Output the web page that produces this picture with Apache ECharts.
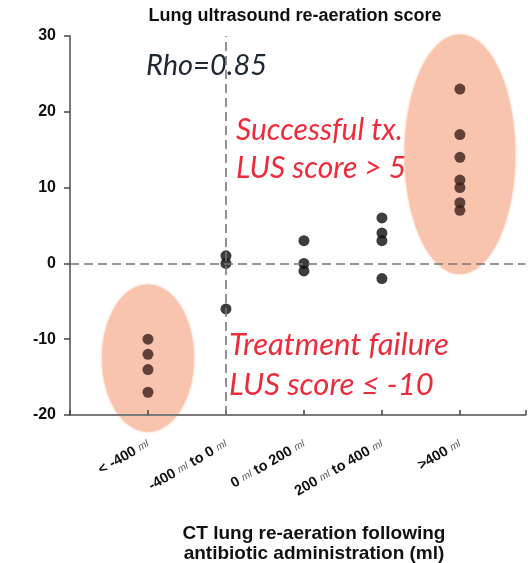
<!DOCTYPE html>
<html>
<head>
<meta charset="utf-8">
<script src="https://cdn.jsdelivr.net/npm/echarts@6/dist/echarts.min.js"></script>
<style>
  html, body { margin: 0; padding: 0; background: #fff; }
  #chart { width: 528px; height: 563px; }
</style>
</head>
<body>
<div id="chart"></div>
<script>
// CT re-aeration groups (x positions 1..5 on the value axis)
const categories = ['< -400 ml', '-400 ml to 0 ml', '0 ml to 200 ml', '200 ml to 400 ml', '>400 ml'];

// Lung ultrasound re-aeration score, one list per CT group
const scoresLt400 = [-10, -12, -14, -17];
const scores400to0 = [1, 0, -6];
const scores0to200 = [3, 0, -1];
const scores200to400 = [6, 4, 3, -2];
const scoresGt400 = [23, 17, 14, 11, 10, 8, 7];
const groupScores = [scoresLt400, scores400to0, scores0to200, scores200to400, scoresGt400];

// Highlighted groups: [group position, centre score, half-width (groups), half-height (score)]
const failureRegion = [1, -12.5, 0.59, 9.7];
const successRegion = [5, 14.4, 0.71, 15.8];

const yTicks = [-20, -10, 0, 10, 20, 30];

const highlighted = [1, 5];
const points = [];
groupScores.forEach((list, gi) => {
  list.forEach(v => {
    const inside = highlighted.indexOf(gi + 1) >= 0;
    points.push({ value: [gi + 1, v], itemStyle: { color: inside ? '#3a1f1b' : '#0d0d0d' } });
  });
});

// "-400 ml" style labels: numbers bold, unit small and light
function richLabel(text) {
  return text.split(' ').map(w => w === 'ml' ? '{m|ml}' : '{b|' + w + '}').join('{b| }') + '{p|}';
}

const chart = echarts.init(document.getElementById('chart'), null, { renderer: 'canvas' });
chart.setOption({
  animation: false,
  backgroundColor: '#fff',
  grid: { left: 70, top: 36, right: 0, bottom: 148, containLabel: false },
  xAxis: {
    type: 'value',
    min: 0,
    max: 5.84,
    interval: 1,
    splitLine: { show: false },
    axisLine: { onZero: false, lineStyle: { color: '#7a7a7a', width: 2 } },
    axisTick: { inside: true, length: 5, lineStyle: { color: '#444', width: 1.5 } },
    axisLabel: {
      rotate: 30,
      margin: 28,
      formatter: v => (v >= 1 && v <= 5 && Number.isInteger(v)) ? richLabel(categories[v - 1]) : '',
      rich: {
        b: { fontFamily: 'Liberation Sans, Arial', fontWeight: 'bold', fontSize: 14.5, color: '#111' },
        m: { fontFamily: 'Liberation Sans, Arial', fontStyle: 'italic', fontSize: 10, color: '#555' },
        p: { width: 0 }
      }
    }
  },
  yAxis: {
    type: 'value',
    min: -20,
    max: 30,
    interval: 10,
    splitLine: { show: false },
    axisLine: { onZero: false, lineStyle: { color: '#7a7a7a', width: 2 } },
    axisTick: { inside: false, length: 6, lineStyle: { color: '#444', width: 1.5 } },
    axisLabel: {
      margin: 14,
      fontFamily: 'Liberation Sans, Arial',
      fontWeight: 'bold',
      fontSize: 16,
      color: '#111',
      formatter: v => (yTicks.indexOf(v) >= 0 ? String(v) : '')
    }
  },
  series: [
    {
      type: 'custom',
      z: -1,
      silent: true,
      clip: false,
      data: [failureRegion, successRegion],
      renderItem: (params, api) => {
        const c = api.coord([api.value(0), api.value(1)]);
        const s = api.size([api.value(2), api.value(3)]);
        return {
          type: 'ellipse',
          shape: { cx: c[0], cy: c[1], rx: s[0], ry: s[1] },
          style: { fill: '#f9c4ae', shadowBlur: 3, shadowColor: '#f9c4ae' }
        };
      }
    },
    {
      type: 'scatter',
      symbolSize: 11,
      data: points,
      markLine: {
        silent: true,
        symbol: 'none',
        label: { show: false },
        lineStyle: { color: '#777', type: [9, 5], width: 1.6 },
        data: [{ yAxis: 0 }, { xAxis: 2 }]
      }
    }
  ],
  graphic: [
    {
      type: 'text', x: 295, y: 7,
      style: { text: 'Lung ultrasound re-aeration score', font: 'bold 18px "Liberation Sans", Arial', fill: '#111', align: 'center' }
    },
    {
      type: 'text', x: 146, y: 51,
      style: { text: 'Rho=0.85', font: 'italic 29px Lato', fill: '#1f2733' }
    },
    {
      type: 'text', x: 236, y: 111,
      style: { text: 'Successful tx.\nLUS score > 5', font: 'italic 30px Lato', lineHeight: 38, fill: '#ee2b3b' }
    },
    {
      type: 'text', x: 229, y: 325,
      style: { text: 'Treatment failure\nLUS score \u2264 -10', font: 'italic 31px Lato', lineHeight: 40, fill: '#ee2b3b' }
    },
    {
      type: 'text', x: 314, y: 524,
      style: {
        text: 'CT lung re-aeration following\nantibiotic administration (ml)',
        font: 'bold 19px "Liberation Sans", Arial', lineHeight: 20, fill: '#111', align: 'center'
      }
    }
  ]
});
</script>
</body>
</html>
